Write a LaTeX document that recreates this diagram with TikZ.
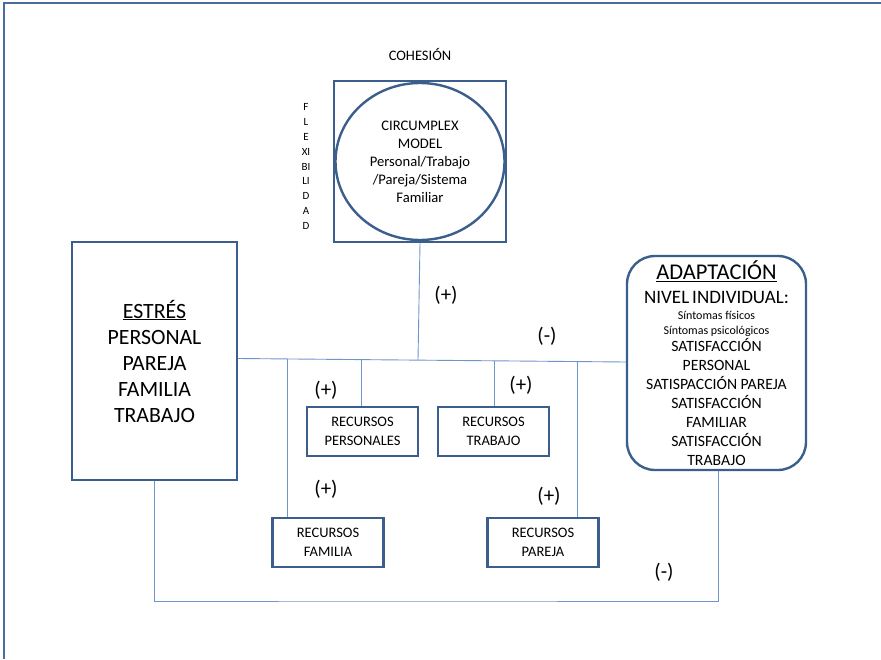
\documentclass[tikz,border=0pt]{standalone}
\usepackage{fontspec}
\setmainfont{Carlito}
\usetikzlibrary{calc,shapes.geometric}
\definecolor{boxblue}{HTML}{3B5E8C}
\definecolor{lineblue}{HTML}{7095CC}
\definecolor{frameblue}{HTML}{4A6D9B}
\newcommand{\fs}[2]{\fontsize{#1}{#2}\selectfont}
\tikzset{
  x=1pt, y=-1pt,
  boxa/.style={draw=boxblue, line width=2.4pt, inner sep=0pt, align=center, text=black},
  recbox/.style={boxa, minimum width=111pt, minimum height=49pt, font=\fs{14.5}{19}},
  conn/.style={draw=lineblue, line width=0.9pt},
  sign/.style={font=\fs{21}{22}, inner sep=0pt, text=black},
}
\begin{document}
\begin{tikzpicture}
\useasboundingbox (0,0) rectangle (881,659);
% frame
\draw[frameblue, line width=2.4pt] (4,659) -- (4,3) -- (881,3);

% stress box
\node[boxa, minimum width=165pt, minimum height=238pt, font=\fs{21.8}{26}] (estres) at (154.5,361)
  {\underline{ESTRÉS}\\PERSONAL\\PAREJA\\FAMILIA\\TRABAJO};

% cohesion square with circle
\node[boxa, minimum width=172pt, minimum height=161pt] (cohes) at (420,161.5) {};
\node[draw=boxblue, line width=2.4pt, ellipse, minimum width=169pt, minimum height=157pt, inner sep=0pt,
  align=center, font=\fs{14.6}{18}] (circ) at (420,161.5)
  {CIRCUMPLEX\\MODEL\\Personal/Trabajo\\/Pareja/Sistema\\Familiar};
\node[font=\fs{14.5}{15}, inner sep=0pt] (cohtxt) at (420,54) {COHESIÓN};
\node[font=\fs{11}{14.9}, align=center, inner sep=0pt] (flex) at (306,166.5)
  {F\\L\\E\\XI\\BI\\LI\\D\\A\\D};

% adaptation box
\node[boxa, rounded corners=28pt, minimum width=179pt, minimum height=214pt, font=\fs{15.7}{19}] (adapt) at (716.5,363)
  {{\fs{22.5}{26}\underline{ADAPTACIÓN}}\\[5pt]
   {\fs{19}{19}NIVEL\hspace{3pt}INDIVIDUAL:}\\[-3pt]
   {\fs{12}{13}Síntomas físicos}\\[-4pt]
   {\fs{12}{13}Síntomas psicológicos}\\[-2pt]
   SATISFACCIÓN\\PERSONAL\\SATISPACCIÓN PAREJA\\SATISFACCIÓN\\FAMILIAR\\SATISFACCIÓN\\TRABAJO};

% resource boxes
\node[recbox] (rpers) at (362.5,431.5) {RECURSOS\\PERSONALES};
\node[recbox] (rtrab) at (493.5,431.5) {RECURSOS\\TRABAJO};
\node[recbox] (rfam) at (328,542.5) {RECURSOS\\FAMILIA};
\node[recbox] (rpar) at (543,542.5) {RECURSOS\\PAREJA};

% bus coordinates
\coordinate (bL) at (estres.east |- 0,358.5);
\coordinate (bR) at (adapt.west |- 0,362);
\coordinate (b1) at (287,359);
\coordinate (b2) at (361,359.4);
\coordinate (b3) at (418,360);
\coordinate (b4) at (494,360.6);
\coordinate (b5) at (577,361.3);
\coordinate (bot) at (400,601);

\draw[conn] (bL) -- (bR);
\draw[conn] (cohes.south) -- (b3);
\draw[conn] (b1) -- (b1 |- rfam.north);
\draw[conn] (b2) -- (b2 |- rpers.north);
\draw[conn] (b4) -- (b4 |- rtrab.north);
\draw[conn] (b5) -- (b5 |- rpar.north);
\draw[conn] (estres.south) |- (bot) -| ([xshift=1.5pt]adapt.south);

% signs
\node[sign] (s1) at (446,295) {(+)};
\node[sign] (s2) at (547,336) {(-)};
\node[sign] (s3) at (326,390) {(+)};
\node[sign] (s4) at (521,385) {(+)};
\node[sign] (s5) at (326,489) {(+)};
\node[sign] (s6) at (549,496) {(+)};
\node[sign] (s7) at (664,572) {(-)};
\end{tikzpicture}
\end{document}
